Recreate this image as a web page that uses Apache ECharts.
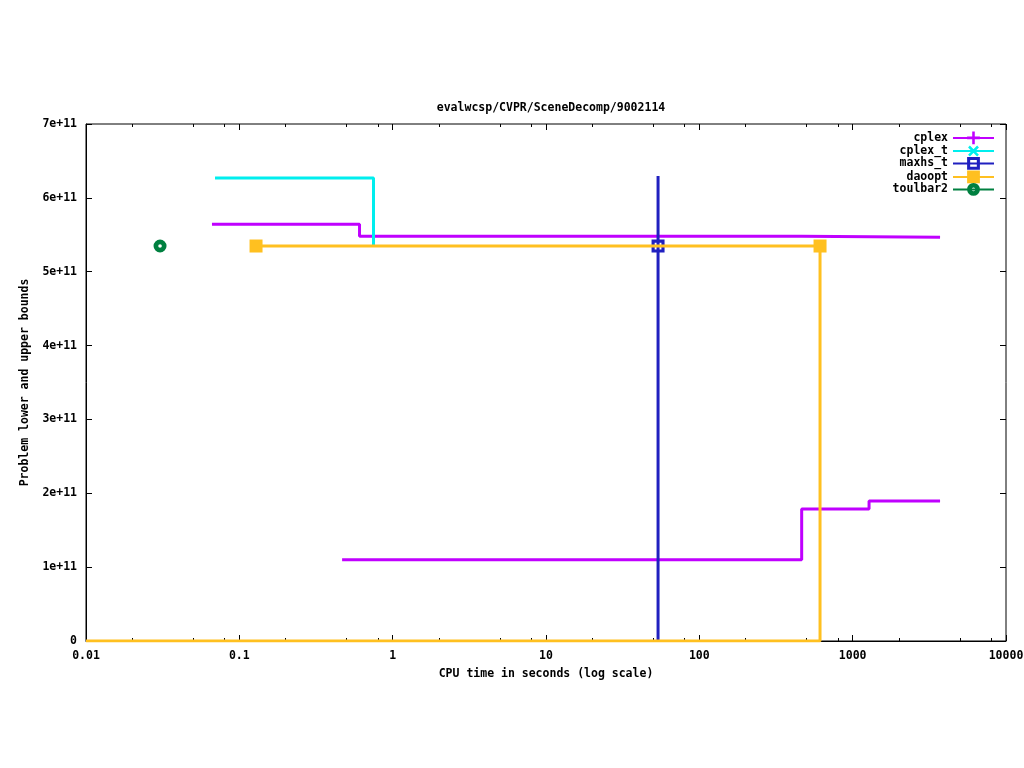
<!DOCTYPE html>
<html>
<head>
<meta charset="utf-8">
<script src="https://cdn.jsdelivr.net/npm/echarts@6/dist/echarts.min.js"></script>
<style>html,body{margin:0;padding:0;background:#fff;}#chart{width:1024px;height:768px;}</style>
</head>
<body>
<div id="chart"></div>
<script>
// ---- data ----
const titleText = 'evalwcsp/CVPR/SceneDecomp/9002114';
const xName = 'CPU time in seconds (log scale)';
const yName = 'Problem lower and upper bounds';
const seriesNames = ['cplex', 'cplex_t', 'maxhs_t', 'daoopt', 'toulbar2'];

// cplex upper bound (step path vertices)
const cplexUpperT = [0.0663, 0.608, 0.608, 465, 465, 3715];
const cplexUpperV = [5.642e11, 5.642e11, 5.479e11, 5.479e11, 5.466e11, 5.466e11];
// cplex lower bound
const cplexLowerT = [0.468, 465, 465, 1279, 1279, 3715];
const cplexLowerV = [1.10e11, 1.10e11, 1.787e11, 1.787e11, 1.895e11, 1.895e11];

const cplexTT = [0.0694, 0.750, 0.750];
const cplexTV = [6.27e11, 6.27e11, 5.36e11];

const maxhsT = [53.8, 53.8, 53.8];
const maxhsV = [6.296e11, 5.348e11, 0];
const maxhsMarks = [1];

const daooptT = [0.1285, 612.6, 612.6, 0.01];
const daooptV = [5.348e11, 5.348e11, 0, 0];
const daooptMarks = [0, 1];

const toulbarT = [0.0304];
const toulbarV = [5.348e11];

const xMin = 0.01, xMax = 10000;
const yMin = 0, yMax = 7e11, yStep = 1e11;
const xMinorTicks = [];
[0.01, 0.1, 1, 10, 100, 1000].forEach(d => [2, 5, 8].forEach(m => xMinorTicks.push(d * m)));

const colors = ['#c000ff', '#00eeee', '#2020c0', '#ffc020', '#008040'];
const FONT = 'DejaVu Sans Mono';
const plusPath = 'path://M4,0H6V10H4ZM0,4H10V6H0Z';
const boxPath = 'path://M0,0H10V10H0ZM2.4,2.4V7.6H7.6V2.4Z';
const ringPath = 'path://M5,0A5,5,0,1,1,5,10A5,5,0,1,1,5,0ZM5,3.6A1.4,1.4,0,1,0,5,6.4A1.4,1.4,0,1,0,5,3.6Z';

function pts(T, V, marks) {
  return T.map((t, i) => {
    const o = { value: [t, V[i]] };
    if (marks && marks.indexOf(i) < 0) o.symbol = 'none';
    return o;
  });
}

const chart = echarts.init(document.getElementById('chart'), null, { renderer: 'canvas' });

const grid = { left: 86, right: 18, top: 124, bottom: 127, show: true, borderColor: '#000', borderWidth: 1,
  backgroundColor: 'transparent', containLabel: false, outerBoundsMode: 'none' };
const txt = { fontFamily: FONT, fontSize: 11.5, fontWeight: 'bold', color: '#000' };

function fmtX(v) { return String(Number(v.toPrecision(6))); }

const legendTops = [131.5, 142, 157, 170.5, 183];
const legends = seriesNames.map((n, i) => ({
  data: [n], orient: 'vertical', right: 29, top: legendTops[i], align: 'right',
  itemWidth: 41, itemHeight: 16, padding: 0, itemGap: 0,
  textStyle: Object.assign({}, txt), selectedMode: false
}));

const option = {
  animation: false,
  backgroundColor: '#fff',
  title: { text: titleText, left: 546, top: 97, textAlign: 'center', textStyle: Object.assign({}, txt) },
  legend: legends,
  grid: grid,
  xAxis: [
    { type: 'log', logBase: 10, min: xMin, max: xMax, position: 'bottom',
      name: xName, nameLocation: 'middle', nameGap: 27, nameTextStyle: Object.assign({}, txt),
      axisLine: { show: true, onZero: false, lineStyle: { color: '#000', width: 1 } },
      axisTick: { inside: true, length: 6, lineStyle: { color: '#000' } },
      axisLabel: Object.assign({ margin: 9, formatter: fmtX, showMaxLabel: true, showMinLabel: true, hideOverlap: false }, txt),
      splitLine: { show: false }, minorTick: { show: false } },
    { type: 'log', logBase: 10, min: xMin, max: xMax, position: 'top',
      axisLine: { show: false, onZero: false }, axisTick: { inside: true, length: 6, lineStyle: { color: '#000' } },
      axisLabel: { show: false }, splitLine: { show: false } },
    { type: 'value', min: Math.log10(xMin), max: Math.log10(xMax), position: 'bottom',
      axisLine: { show: false, onZero: false },
      axisTick: { inside: true, length: 3, lineStyle: { color: '#000' }, customValues: xMinorTicks.map(v => Math.log10(v)) },
      axisLabel: { show: false }, splitLine: { show: false } },
    { type: 'value', min: Math.log10(xMin), max: Math.log10(xMax), position: 'top',
      axisLine: { show: false, onZero: false },
      axisTick: { inside: true, length: 3, lineStyle: { color: '#000' }, customValues: xMinorTicks.map(v => Math.log10(v)) },
      axisLabel: { show: false }, splitLine: { show: false } }
  ],
  yAxis: [
    { type: 'value', min: yMin, max: yMax, interval: yStep, position: 'left',
      name: yName, nameLocation: 'middle', nameGap: 55, nameRotate: 90, nameTextStyle: Object.assign({}, txt),
      axisLine: { show: true, onZero: false, lineStyle: { color: '#000', width: 1 } },
      axisTick: { inside: true, length: 6, lineStyle: { color: '#000' } },
      axisLabel: Object.assign({ margin: 9, formatter: v => v === 0 ? '0' : Math.round(v / 1e11) + 'e+11' }, txt),
      splitLine: { show: false } },
    { type: 'value', min: yMin, max: yMax, interval: yStep, position: 'right',
      axisLine: { show: false, onZero: false }, axisTick: { inside: true, length: 6, lineStyle: { color: '#000' } },
      axisLabel: { show: false }, splitLine: { show: false } }
  ],
  series: [
    { name: 'cplex', type: 'line', data: pts(cplexUpperT, cplexUpperV), symbol: plusPath, symbolSize: 13, showSymbol: false,
      lineStyle: { color: colors[0], width: 3 }, itemStyle: { color: colors[0] }, z: 2 },
    { name: 'cplex', type: 'line', data: pts(cplexLowerT, cplexLowerV), symbol: plusPath, symbolSize: 13, showSymbol: false,
      lineStyle: { color: colors[0], width: 3 }, itemStyle: { color: colors[0] }, z: 2 },
    { name: 'cplex_t', type: 'line', data: pts(cplexTT, cplexTV), symbol: plusPath, symbolRotate: 45, symbolSize: 14, showSymbol: false,
      lineStyle: { color: colors[1], width: 3 }, itemStyle: { color: colors[1] }, z: 3 },
    { name: 'maxhs_t', type: 'line', data: pts(maxhsT, maxhsV, maxhsMarks), symbol: boxPath, symbolSize: 13, showSymbol: true,
      lineStyle: { color: colors[2], width: 3 }, itemStyle: { color: colors[2] }, z: 4 },
    { name: 'daoopt', type: 'line', data: pts(daooptT, daooptV, daooptMarks), symbol: 'rect', symbolSize: 13, showSymbol: true,
      lineStyle: { color: colors[3], width: 3 }, itemStyle: { color: colors[3] }, z: 5 },
    { name: 'toulbar2', type: 'line', data: pts(toulbarT, toulbarV), symbol: ringPath, symbolSize: 13, showSymbol: true,
      lineStyle: { color: colors[4], width: 3 }, itemStyle: { color: colors[4] }, z: 6 }
  ]
};
chart.setOption(option);
</script>
</body>
</html>
